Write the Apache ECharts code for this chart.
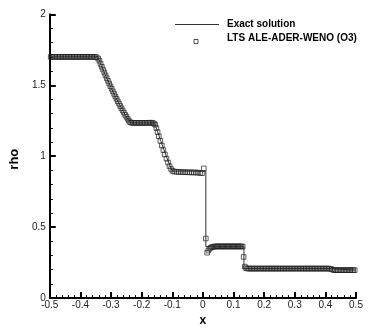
<!DOCTYPE html>
<html>
<head>
<meta charset="utf-8">
<script src="https://cdn.jsdelivr.net/npm/echarts@6/dist/echarts.min.js"></script>
<style>
html,body{margin:0;padding:0;background:#fff;}
#chart{width:374px;height:332px;}
</style>
</head>
<body>
<div id="chart"></div>
<script>
// Axis ticks
const xTicks = [-0.5,-0.4,-0.3,-0.2,-0.1,0,0.1,0.2,0.3,0.4,0.5];
const yTicks = [0,0.5,1,1.5,2];

// Exact solution
const exactX = [-0.5,-0.343,-0.333,-0.323,-0.313,-0.303,-0.293,-0.283,-0.273,-0.263,-0.253,-0.243,-0.237,-0.158,-0.148,-0.138,-0.128,-0.118,-0.108,-0.1,0.0096,0.0096,0.134,0.134,0.42,0.424,0.5];
const exactY = [1.70,1.70,1.645,1.595,1.545,1.498,1.452,1.408,1.366,1.326,1.289,1.254,1.235,1.235,1.172,1.11,1.05,0.99,0.935,0.895,0.895,0.362,0.362,0.208,0.208,0.197,0.197];

// LTS ALE-ADER-WENO (O3) cell values
const schemeLeft = [
[-0.497,1.70],[-0.492,1.70],[-0.487,1.70],[-0.482,1.70],[-0.477,1.70],[-0.472,1.70],[-0.467,1.70],[-0.462,1.70],[-0.457,1.70],[-0.452,1.70],
[-0.447,1.70],[-0.442,1.70],[-0.437,1.70],[-0.432,1.70],[-0.427,1.70],[-0.422,1.70],[-0.417,1.70],[-0.412,1.70],[-0.407,1.70],[-0.402,1.70],
[-0.397,1.70],[-0.392,1.70],[-0.387,1.70],[-0.382,1.70],[-0.377,1.70],[-0.372,1.70],[-0.367,1.70],[-0.362,1.70],[-0.357,1.70],[-0.352,1.699],
[-0.347,1.697],[-0.342,1.688]
];
const schemeRarefaction1 = [
[-0.338,1.672],[-0.334,1.650],[-0.330,1.630],[-0.326,1.610],[-0.322,1.590],[-0.318,1.570],[-0.314,1.550],[-0.310,1.531],[-0.306,1.512],[-0.302,1.493],
[-0.298,1.475],[-0.294,1.457],[-0.290,1.439],[-0.286,1.421],[-0.282,1.404],[-0.278,1.387],[-0.274,1.370],[-0.270,1.354],[-0.266,1.338],[-0.262,1.322],
[-0.258,1.307],[-0.254,1.292],[-0.250,1.278],[-0.246,1.264],[-0.242,1.251],[-0.238,1.240],[-0.234,1.236]
];
const schemePlateau1 = [
[-0.229,1.235],[-0.224,1.235],[-0.219,1.235],[-0.214,1.235],[-0.209,1.235],[-0.204,1.235],[-0.199,1.235],[-0.194,1.235],[-0.189,1.235],[-0.184,1.235],
[-0.179,1.235],[-0.174,1.236],[-0.169,1.236],[-0.164,1.234],[-0.160,1.230]
];
const schemeRarefaction2 = [
[-0.156,1.222],[-0.152,1.198],[-0.148,1.170],[-0.144,1.140],[-0.139,1.108],[-0.134,1.075],[-0.129,1.043],[-0.124,1.012],[-0.119,0.982],[-0.114,0.955],
[-0.109,0.930],[-0.104,0.910],[-0.099,0.896]
];
const schemePlateau2 = [
[-0.093,0.892],[-0.086,0.890],[-0.079,0.889],[-0.072,0.888],[-0.065,0.888],[-0.058,0.887],[-0.051,0.887],[-0.044,0.886],[-0.037,0.886],[-0.030,0.885],
[-0.023,0.885],[-0.016,0.884],[-0.009,0.882],[-0.003,0.880],[0.003,0.914]
];
const schemeContact = [
[0.0096,0.42],[0.014,0.32],[0.018,0.335],[0.022,0.348],[0.026,0.356],[0.030,0.360],[0.034,0.362],[0.038,0.363],[0.042,0.364],[0.046,0.364],
[0.050,0.364],[0.054,0.364],[0.058,0.364],[0.062,0.364],[0.066,0.364],[0.070,0.364],[0.074,0.364],[0.078,0.364],[0.082,0.364],[0.086,0.364],
[0.090,0.364],[0.094,0.364],[0.098,0.364],[0.102,0.364],[0.106,0.364],[0.110,0.364],[0.114,0.364],[0.118,0.364],[0.122,0.364],[0.126,0.364],
[0.130,0.363]
];
const schemeRight = [
[0.133,0.29],[0.137,0.222],[0.141,0.211],[0.146,0.208],[0.151,0.208],[0.156,0.208],[0.161,0.208],[0.166,0.208],[0.171,0.208],[0.176,0.208],
[0.181,0.208],[0.186,0.208],[0.191,0.208],[0.196,0.208],[0.201,0.208],[0.206,0.208],[0.211,0.208],[0.216,0.208],[0.221,0.208],[0.226,0.208],
[0.231,0.208],[0.236,0.208],[0.241,0.208],[0.246,0.208],[0.251,0.208],[0.256,0.208],[0.261,0.208],[0.266,0.208],[0.271,0.208],[0.276,0.208],
[0.281,0.208],[0.286,0.208],[0.291,0.208],[0.296,0.208],[0.301,0.208],[0.306,0.208],[0.311,0.208],[0.316,0.208],[0.321,0.208],[0.326,0.208],
[0.331,0.208],[0.336,0.208],[0.341,0.208],[0.346,0.208],[0.351,0.208],[0.356,0.208],[0.361,0.208],[0.366,0.208],[0.371,0.208],[0.376,0.208],
[0.381,0.208],[0.386,0.208],[0.391,0.208],[0.396,0.208],[0.401,0.208],[0.406,0.208],[0.411,0.208],[0.416,0.207],[0.421,0.203],[0.426,0.199],
[0.431,0.197],[0.436,0.197],[0.441,0.197],[0.446,0.197],[0.451,0.197],[0.456,0.197],[0.461,0.197],[0.466,0.197],[0.471,0.197],[0.476,0.197],
[0.481,0.197],[0.486,0.197],[0.491,0.197],[0.496,0.197]
];

const legendNames = ['Exact solution', 'LTS ALE-ADER-WENO (O3)'];

const FONT = "'Liberation Sans', Arial, Helvetica, sans-serif";
const exactData = exactX.map((x, i) => [x, exactY[i]]);
const schemeData = [].concat(schemeLeft, schemeRarefaction1, schemePlateau1, schemeRarefaction2, schemePlateau2, schemeContact, schemeRight);

function fmt(v) { return String(parseFloat(Number(v).toFixed(2))); }

const chart = echarts.init(document.getElementById('chart'), null, {renderer: 'canvas'});
chart.setOption({
  animation: false,
  backgroundColor: '#fff',
  grid: {left: 36.5, right: 18, top: 14.3, bottom: 31.3, containLabel: false},
  xAxis: {
    type: 'value', min: xTicks[0], max: xTicks[xTicks.length - 1], interval: 0.1,
    name: 'x', nameLocation: 'middle', nameGap: 12,
    nameTextStyle: {fontFamily: FONT, fontWeight: 'bold', fontSize: 12, color: '#000'},
    axisLine: {show: true, onZero: false, lineStyle: {color: '#000', width: 2}},
    axisTick: {show: true, inside: true, length: 6, lineStyle: {color: '#000', width: 2}},
    minorTick: {show: true, splitNumber: 5, length: 3, lineStyle: {color: '#000', width: 1}},
    splitLine: {show: false},
    axisLabel: {fontFamily: FONT, fontSize: 10, color: '#222', margin: 2, formatter: fmt}
  },
  yAxis: {
    type: 'value', min: yTicks[0], max: yTicks[yTicks.length - 1], interval: 0.5,
    name: 'rho', nameLocation: 'middle', nameGap: 26, nameRotate: 90,
    nameTextStyle: {fontFamily: FONT, fontWeight: 'bold', fontSize: 13, color: '#000', padding: [0, 0, 0, -6]},
    axisLine: {show: true, onZero: false, lineStyle: {color: '#000', width: 2}},
    axisTick: {show: true, inside: true, length: 6, lineStyle: {color: '#000', width: 2}},
    minorTick: {show: true, splitNumber: 5, length: 3, lineStyle: {color: '#000', width: 1}},
    splitLine: {show: false},
    axisLabel: {fontFamily: FONT, fontSize: 10, color: '#222', margin: 4, formatter: fmt}
  },
  series: [
    {
      name: legendNames[0], type: 'line', data: exactData, showSymbol: false, symbol: 'none',
      lineStyle: {color: '#333', width: 1}, z: 2
    },
    {
      name: legendNames[1], type: 'scatter', data: schemeData, symbol: 'rect', symbolSize: 4.6,
      itemStyle: {color: 'rgba(255,255,255,0)', borderColor: '#222', borderWidth: 0.9}, z: 3
    }
  ],
  graphic: [
    {type: 'line', shape: {x1: 175, y1: 24.5, x2: 219, y2: 24.5}, style: {stroke: '#333', lineWidth: 1}},
    {type: 'text', x: 227, y: 24.5, style: {text: legendNames[0], font: 'bold 10px ' + FONT, fill: '#000', textVerticalAlign: 'middle', verticalAlign: 'middle'}},
    {type: 'rect', shape: {x: 194, y: 39.5, width: 4, height: 4}, style: {fill: 'rgba(255,255,255,0)', stroke: '#222', lineWidth: 0.8}},
    {type: 'text', x: 227, y: 38.5, style: {text: legendNames[1], font: 'bold 10px ' + FONT, fill: '#000', textVerticalAlign: 'middle', verticalAlign: 'middle'}}
  ]
});
</script>
</body>
</html>
